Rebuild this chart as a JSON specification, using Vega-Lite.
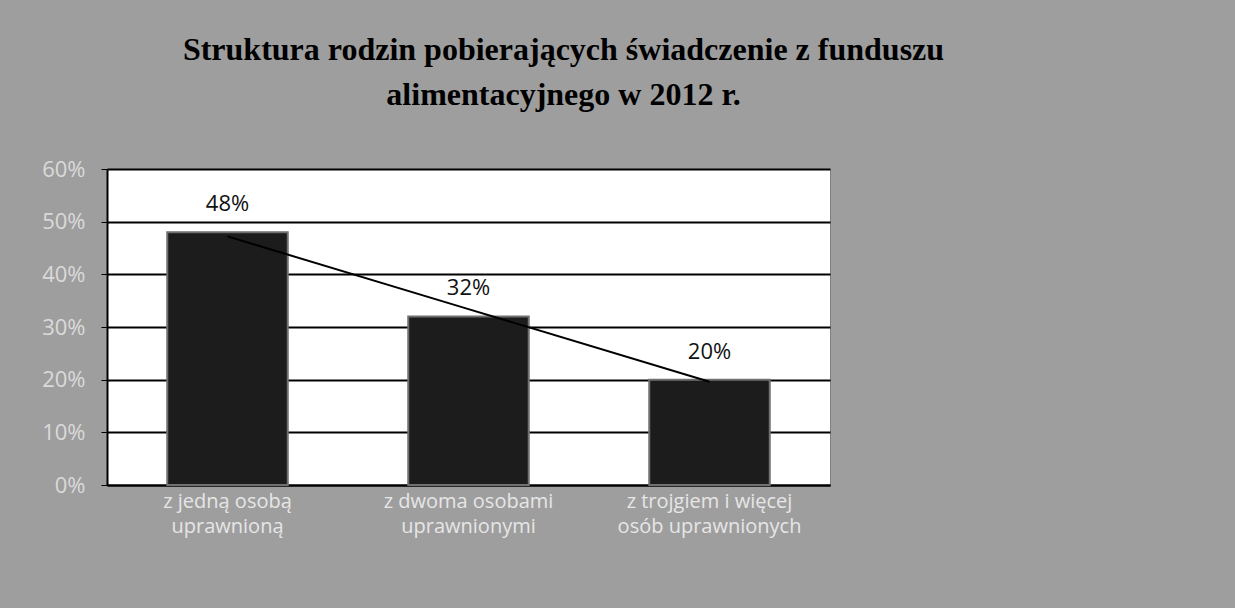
{
  "$schema": "https://vega.github.io/schema/vega-lite/v6.json",
  "width": 723,
  "height": 316,
  "autosize": {"type": "none"},
  "padding": {"left": 107, "top": 169, "right": 405, "bottom": 123},
  "background": "#9e9e9e",
  "title": {
    "text": ["Struktura rodzin pobierających świadczenie z funduszu", "alimentacyjnego w 2012 r."],
    "font": "Liberation Serif",
    "fontSize": 32,
    "fontWeight": "bold",
    "color": "#000000",
    "lineHeight": 45,
    "anchor": "middle",
    "dx": 95,
    "offset": 46
  },
  "config": {
    "view": {"fill": "#ffffff", "stroke": "#808080", "strokeWidth": 1}
  },
  "data": {
    "values": [
      {"kategoria": "z jedną osobą|uprawnioną", "udzial": 0.48, "trend": 0.472},
      {"kategoria": "z dwoma osobami|uprawnionymi", "udzial": 0.32, "trend": 0.334},
      {"kategoria": "z trojgiem i więcej|osób uprawnionych", "udzial": 0.20, "trend": 0.196}
    ]
  },
  "encoding": {
    "x": {
      "field": "kategoria",
      "type": "nominal",
      "sort": null,
      "scale": {"paddingInner": 0.5, "paddingOuter": 0.25},
      "axis": {
        "title": null,
        "labelAngle": 0,
        "labelExpr": "split(datum.label, '|')",
        "labelFont": "Open Sans",
        "labelFontSize": 20,
        "labelColor": "#e6e6e6",
        "labelLineHeight": 25,
        "labelPadding": 6,
        "labelLimit": 400,
        "ticks": false,
        "domainColor": "#000000",
        "domainWidth": 2
      }
    }
  },
  "layer": [
    {
      "mark": {"type": "bar", "color": "#1c1c1c", "stroke": "#707070", "strokeWidth": 2},
      "encoding": {
        "y": {
          "field": "udzial",
          "type": "quantitative",
          "scale": {"domain": [0, 0.6], "nice": false},
          "axis": {
            "title": null,
            "values": [0, 0.1, 0.2, 0.3, 0.4, 0.5, 0.6],
            "format": ".0%",
            "labelFont": "Open Sans",
            "labelFontSize": 22,
            "labelColor": "#dadada",
            "labelPadding": 16,
            "tickColor": "#000000",
            "tickSize": 6,
            "grid": true,
            "gridColor": "#000000",
            "gridWidth": 2,
            "domainColor": "#000000",
            "domainWidth": 2
          }
        }
      }
    },
    {
      "mark": {"type": "line", "color": "#000000", "strokeWidth": 2},
      "encoding": {
        "y": {"field": "trend", "type": "quantitative"}
      }
    },
    {
      "mark": {"type": "text", "dy": -28, "font": "Open Sans", "fontSize": 22, "color": "#111111"},
      "encoding": {
        "y": {"field": "udzial", "type": "quantitative"},
        "text": {"field": "udzial", "type": "quantitative", "format": ".0%"}
      }
    }
  ]
}
